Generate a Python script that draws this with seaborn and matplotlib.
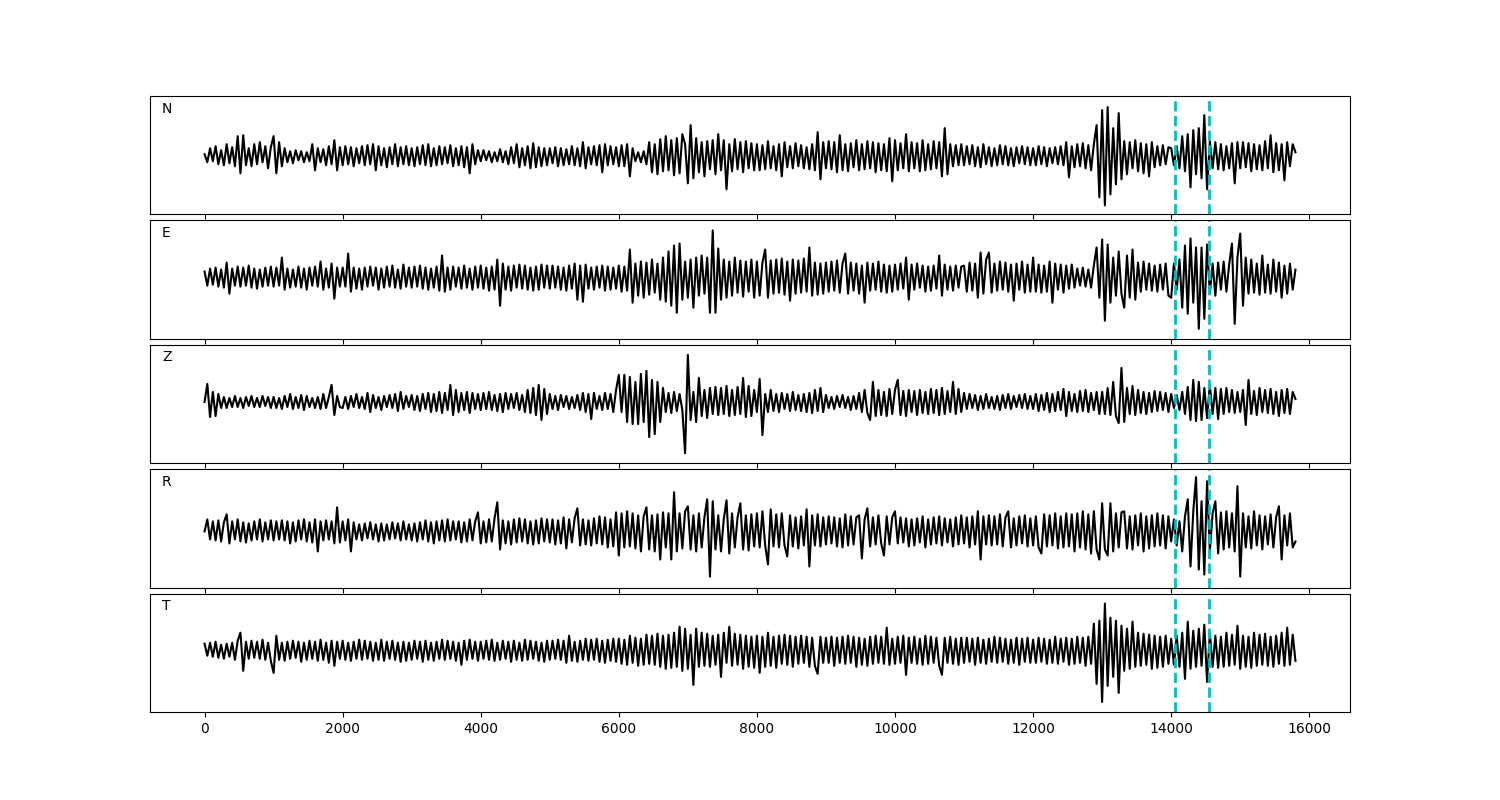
import numpy as np
import pandas as pd
import matplotlib
matplotlib.use("Agg")
import matplotlib.pyplot as plt
import seaborn as sns

# ---------------- data (amplitudes, arbitrary units) ----------------
COMPONENTS = ["N", "E", "Z", "R", "T"]
SAMPLE_END = 15800          # last sample index of the traces
PICKS = [14050, 14550]      # dashed pick markers

N_TRACE = [
    2, -6, 8, -5, 10, -8, 6, -9, 12, -7, 9, -10, 20, -17, 21, -9, 8, -10, 12, -8, 14, -6, 10, -12, 9,
    20, -17, 14, -10, 8, -6, 5, -7, 6, -4, 5, -6, 4, -5, 12, -14, 8, -6, 7, -9, 10, -8, 16, -14, 9,
    -9, 10, -8, 9, -10, 8, -7, 10, -9, 11, -8, 12, -14, 10, -9, 8, -11, 9, -8, 12, -10, 9, -8, 10, -9,
    8, -10, 9, -8, 11, -9, 12, -10, 8, -9, 10, -8, 9, -7, 11, -10, 8, -9, 10, -11, 9, -17, 12, -8, 6,
    -5, 6, -4, 5, -6, 4, -5, 7, -6, 5, -8, 9, -7, 12, -11, 8, -9, 10, -12, 13, -11, 9, -10, 8, -9,
    8, -7, 9, -10, 8, -9, 7, -8, 10, -9, 8, -10, 14, -12, 9, -8, 10, -9, 11, -16, 12, -9, 10, -8, 9,
    -10, 11, -10, 12, -20, 8, -5, 4, -6, 5, -8, 14, -16, 12, -18, 17, -15, 20, -14, 16, -19, 18, -17, 22, 12,
    -27, 31, -22, 18, -16, 14, -20, 15, -13, 16, -18, 22, -14, 16, -33, 12, -15, 17, -13, 14, -16, 15, -12, 13, -14,
    12, -14, 11, -13, 15, -12, 10, -14, 12, -20, 14, -11, 10, -12, 13, -10, 11, -12, 9, -13, 12, -14, 24, -23, 14,
    -12, 15, -13, 14, -16, 21, -14, 12, -15, 13, -11, 16, -14, 12, -13, 15, -12, 14, -16, 13, -14, 12, -15, 18, -25,
    16, -14, 13, -12, 22, -15, 14, -12, 13, -15, 16, -14, 12, -13, 15, -12, 14, -20, 28, -18, 12, -10, 11, -9, 12,
    -9, 10, -8, 11, -10, 9, -11, 12, -8, 9, -10, 8, -9, 11, -8, 10, -9, 8, -10, 9, -7, 10, -8, 9, -9,
    8, -9, 10, -8, 9, -10, 8, -7, 9, -8, 10, -9, 14, -21, 10, -11, 12, -10, 13, -12, 11, -14, 12, 31, -41,
    46, -49, 49, -38, 28, -28, 43, -23, 15, -18, 14, -12, 16, -15, 13, -17, 12, -20, 14, -11, 10, -9, 11, -8, 9,
    8, -9, 10, -12, 20, -15, 22, -31, 26, -18, 28, -22, 41, -33, 15, -12, 14, -13, 12, -14, 10, -12, 13, -27, 14,
    -12, 14, -11, 13, -15, 12, -13, 11, -14, 15, -12, 21, -16, 13, -14, 12, -24, 14, -10, 12, 4,
]

E_TRACE = [
    6, -8, 9, -7, 10, -9, 8, -10, 15, -16, 9, -8, 11, -9, 10, -8, 12, -10, 9, -11, 8, -9, 10, -8, 11,
    -9, 10, -8, 20, -12, 9, -10, 8, -9, 11, -10, 9, -12, 10, -8, 11, -9, 16, -12, 9, -10, 14, -21, 10, -9,
    10, -9, 24, -14, 10, -11, 9, -12, 10, -9, 11, -8, 10, -12, 9, -10, 11, -9, 12, -10, 8, -11, 13, -9, 10,
    -10, 11, -9, 12, -11, 10, -12, 9, -10, 11, -13, 22, -14, 10, -12, 11, -9, 10, -11, 12, -10, 9, -12, 11, -10,
    12, -11, 10, -13, 11, -12, 18, -28, 14, -12, 11, -13, 12, -10, 13, -11, 12, -12, 10, -13, 11, -12, 13, -10, 12,
    -11, 12, -10, 11, -12, 10, -13, 12, -11, 14, -22, 12, -24, 13, -11, 10, -12, 11, -10, 12, -13, 11, -12, 10, -11,
    12, -14, 11, -13, 28, -25, 14, -18, 16, -20, 15, -17, 18, -15, 14, -22, 20, -24, 26, -28, 32, -35, 34, -22, 16,
    -20, 18, -30, 20, -18, 22, -16, 20, -35, 47, -35, 29, -22, 18, -20, 16, -18, 20, -15, 17, -19, 16, -14, 18, -20,
    16, -18, 15, 28, -20, 17, -16, 18, -15, 19, -17, 16, -23, 18, -16, 17, -15, 19, -14, 30, -18, 15, -17, 14, -16,
    15, -14, 16, -13, 17, -15, 14, 24, -16, 15, -13, 14, -16, 12, -25, 15, -13, 14, -12, 16, -14, 13, -15, 12, -14,
    13, -12, 14, -11, 20, -22, 13, -12, 14, -10, 12, -14, 11, -13, 12, -11, 22, -18, 13, -12, 11, -13, 12, -10, 11,
    12, -14, 15, -13, 14, -20, 25, -16, 18, 25, -15, 14, -13, 16, -12, 15, -14, 13, -23, 14, -12, 16, -15, 13, -14,
    20, -14, 13, -15, 12, -14, 16, -25, 14, -12, 13, -15, 12, -11, 13, -10, 9, -8, 10, -9, 8, -10, 12, 30, -20,
    38, -43, 33, -25, 20, -18, 26, -16, -30, 22, -20, 28, -22, 15, -14, 16, -12, 14, -13, 12, -14, 13, -12, 14, -18,
    -20, 14, -12, 18, -30, 32, -36, 39, -25, 30, -51, 30, -41, 33, -16, 14, -18, 15, -12, 16, -14, 13, 34, -46, 20,
    44, -28, 20, -16, 18, -15, 14, -17, 22, -15, 13, -16, 18, -14, 15, -20, 12, -16, 14, -12, 8,
]

Z_TRACE = [
    0, 18, -15, 10, -14, 8, -6, 5, -6, 4, -5, 6, -5, 4, -6, 5, -4, 6, -5, 4, -5, 6, -4, 5, -6,
    5, -6, 4, -7, 6, -5, 8, -7, 5, -6, 7, -8, 6, -5, 4, -6, 5, -7, 8, -6, 5, 17, -13, 6, -5,
    -6, 5, -7, 6, -5, 8, -6, 5, -7, 9, -10, 7, -6, 5, -8, 6, -5, 7, -6, 8, -9, 10, -7, 6, -5,
    7, -8, 6, -9, 8, -7, 9, -10, 8, -9, 10, -11, 9, -8, 17, -13, 12, -10, 9, -8, 10, -11, 9, -7, 8,
    -8, 9, -7, 10, -8, 7, -9, 8, -10, 9, -7, 8, -6, 9, -8, 7, -10, 12, -11, 14, -13, 17, -18, 13, -12,
    8, -7, 6, -8, 7, -5, 6, -7, 5, -6, 7, -8, 9, -10, 8, -17, 9, -7, 6, -8, 9, -7, 8, -10, 12,
    27, -10, 27, -20, 25, -22, 20, -22, 28, -20, 31, -35, 22, -32, 20, -20, 14, -10, 9, -11, 10, -9, 8, -8, -51,
    47, -18, 10, -20, 24, -14, 12, -16, 14, -12, 15, -13, 14, -12, 16, -14, 12, -13, 15, -12, 24, -15, 16, -14, 12,
    -10, 23, -33, 8, -10, 12, -9, 8, -10, 9, -7, 8, -9, 10, -8, 7, -9, 8, -10, 9, -11, 12, -9, 14, -10,
    7, -6, 5, -7, 6, -5, 7, -6, 5, -8, 6, -7, 9, -10, 12, -11, -18, 20, -14, 12, -13, 10, -14, 13, -12,
    12, 22, -13, 11, -14, 12, -10, 11, -13, 12, -11, 10, -12, 13, -11, 12, -13, 14, -12, 11, -10, 20, -12, 13, -10,
    9, -7, 8, -6, 7, -8, 6, -7, 8, -6, 5, -7, 6, -8, 7, -6, 8, -7, 6, -5, 7, -6, 8, -7, 6,
    -7, 8, -9, 7, -8, 9, -10, 8, -9, 10, -8, 13, -14, 10, -9, 8, -10, 11, -9, 12, -10, 9, -8, 10, -12,
    10, -12, 14, -13, 20, -14, -21, 34, -20, 14, -12, 16, -13, 12, -11, 10, -12, 9, -10, 11, -9, 10, -8, 9, -10,
    8, -6, 7, -8, 10, -12, 15, -18, 22, -19, 20, -18, 14, -16, 17, -12, 14, -17, 13, -12, 14, -10, 12, -11, 10,
    -10, 12, -23, 22, -12, 11, -13, 14, -10, 12, -11, 13, -12, 10, -14, 12, -11, 13, -12, 10, 3,
]

R_TRACE = [
    0, 12, -8, 10, -9, 11, -10, 9, 17, -12, 10, -8, 12, -10, 9, -11, 8, -9, 10, -8, 12, -10, 9, -8, 11,
    -9, 10, -8, 11, -9, 10, -12, 9, -10, 11, -8, 12, -10, 9, -11, 12, -20, 10, -9, 11, -8, 10, -12, 24, -11,
    10, -9, 12, -20, 9, -8, 7, -9, 8, -7, 9, -8, 7, -10, 8, -9, 7, -8, 9, -7, 8, -9, 10, -8, 7,
    -9, 8, -10, 9, -8, 11, -10, 9, -12, 10, -9, 11, -10, 12, -9, 10, -8, 10, -11, 9, -10, 12, -9, 10, 19,
    -12, 10, -11, 12, -10, 13, 29, -18, 11, -12, 10, -13, 12, -11, 13, -10, 12, -12, 10, -13, 11, -12, 13, -10, 12,
    -11, 12, -13, 11, -12, 14, -17, 12, -11, 13, 23, -14, 12, -13, 11, -14, 13, -12, 15, -13, 14, -16, 12, -15, 19,
    -24, 18, -16, 20, -15, 18, -17, 16, -20, 15, 24, -18, 16, -20, 17, -28, 19, -16, 18, -28, 39, -20, 18, -17, 20,
    25, -18, 16, -20, 18, -16, 14, 32, -45, 30, -18, 16, -20, 12, 31, -22, 18, -16, 14, 28, -18, 16, -19, 17, -15,
    18, -16, 20, -14, -33, 22, -15, 17, -16, 18, -14, -25, 16, -15, 14, -17, 15, -14, 22, -35, 16, -14, 17, -15, 14,
    -13, 15, -12, 14, -15, 13, -16, 17, -14, 15, -13, 14, 16, -27, 12, 23, -15, 14, -13, 16, -12, -24, 15, -13, 14,
    20, -12, 14, -11, 13, -15, 12, -14, 13, -11, 15, -16, 12, -13, 14, -12, 15, -14, 13, -11, 12, -15, 14, -13, 16,
    -12, 14, -16, 15, -13, 20, -28, 15, -13, 16, -14, 15, -13, 17, -15, 14, 20, -16, 13, -14, 15, -12, 16, -15, 13,
    -14, 15, -16, -22, 17, -15, 16, -14, 18, -17, 15, -16, 18, -15, 17, -20, 18, -16, 20, -18, 17, -22, 20, -18, -28,
    28, -18, -24, 28, -20, 18, -16, 19, 20, -17, 15, -18, 16, -14, 18, -20, 15, -17, 16, -15, 18, -14, 16, -17, 15,
    -10, 12, -14, 10, -20, 15, 32, -35, 20, 54, -38, 30, -43, 50, -20, 18, 30, -22, 19, -18, 20, -16, 18, -20, 45,
    -45, 18, -16, 15, -17, 20, -14, 16, -18, 15, -13, 17, -16, 14, 25, -28, 16, -14, 18, -16, -10,
]

T_TRACE = [
    7, -5, 8, -6, 9, -7, 6, -8, 7, -6, 8, -9, 10, 18, -20, 9, -8, 10, -7, 9, -8, 11, -9, 8, -10,
    -22, 15, -9, 8, -10, 9, -8, 10, -7, 9, -11, 8, -9, 10, -8, 9, -10, 11, -9, 8, -12, 10, -15, 9, -8,
    10, -9, 8, -10, 9, -8, 11, -9, 10, -8, 9, -10, 8, -9, 11, -10, 9, -8, 10, -9, 8, -11, 9, -10, 8,
    -9, 10, -8, 9, -11, 10, -9, 8, -10, 9, -8, 11, -9, 10, -8, 9, -10, 8, -14, 10, -9, 11, -8, 9, -10,
    9, -8, 10, -9, 11, -10, 8, -9, 10, -8, 9, -11, 10, -9, 8, -10, 11, -9, 10, -8, 9, -10, 8, -11, 10,
    -9, 10, -8, 11, -9, 10, -12, 15, -10, 9, -11, 10, -9, 12, -10, 11, -9, 12, -11, 10, -12, 11, -10, 12, -11,
    12, -13, 11, -14, 15, -12, 13, -15, 12, -14, 16, -13, 15, -14, 17, -16, 15, -18, 16, -17, 18, -16, 24, -20, 22,
    -18, 16, -34, 22, -16, 18, -15, 17, -16, 15, -14, 16, -26, 18, -12, 24, -15, 17, -14, 16, -18, 15, -16, 14, -17,
    15, -22, 14, -16, 18, -15, 14, -17, 15, -13, 16, -14, 15, -16, 14, -13, 15, -12, 14, -16, 13, -15, -23, 14, -12,
    13, -12, 14, -15, 13, -12, 14, -13, 15, -12, 14, -16, 13, -14, 12, -15, 14, -13, 15, -12, 14, -13, 23, -14, 12,
    -13, 14, -12, 15, -24, 13, -12, 14, -13, 12, -14, 15, -13, 14, -12, 13, -15, -24, 13, -12, 14, -13, 12, -14, 13,
    -12, 13, -11, 12, -14, 13, -12, 11, -13, 12, -11, 14, -12, 13, -11, 12, -13, 11, -12, 13, -14, 12, -11, 13, -12,
    11, -12, 13, -11, 12, -13, 11, -12, 14, -13, 12, -11, 13, -14, 12, -13, 14, -12, 13, -15, 14, -13, 27, -33, 30,
    -51, 47, -35, 33, -26, 30, -42, 25, -20, 22, -18, 29, -16, 18, -15, 17, -14, 16, -18, 15, -17, 14, -16, 15, -13,
    12, -14, 15, -16, 18, -28, 29, -18, 20, -16, 22, -15, 26, -31, 18, -16, 15, -17, 14, -16, 18, -15, 16, -14, 25,
    -18, 15, -16, 14, -17, 18, -15, 16, -14, 17, -15, 14, -16, 15, -13, 18, -15, 23, -14, 16, -10,
]

TRACES = {"N": N_TRACE, "E": E_TRACE, "Z": Z_TRACE, "R": R_TRACE, "T": T_TRACE}

# ---------------- layout / style ----------------
YLIMS = {"N": (-58, 60), "E": (-61, 57), "Z": (-61, 57), "R": (-56, 62), "T": (-61, 57)}

fig, axes = plt.subplots(5, 1, sharex=True, figsize=(15, 8), dpi=100)
fig.subplots_adjust(left=0.1, right=0.9, top=0.88, bottom=0.11, hspace=0.05)

for ax, comp in zip(axes, COMPONENTS):
    vals = TRACES[comp]
    df = pd.DataFrame({"sample": np.linspace(0, SAMPLE_END, len(vals)), "amp": vals})
    sns.lineplot(data=df, x="sample", y="amp", ax=ax, color="black", lw=1.5,
                 sort=False, estimator=None)
    for p in PICKS:
        ax.axvline(p, color="c", ls="--", lw=2)
    ax.set_yticks([])
    ax.set_ylabel("")
    ax.set_xlabel("")
    ax.set_ylim(*YLIMS[comp])
    ax.text(0.01, 0.86, comp, transform=ax.transAxes, fontsize=10)

fig.savefig("out.png", dpi=100)
